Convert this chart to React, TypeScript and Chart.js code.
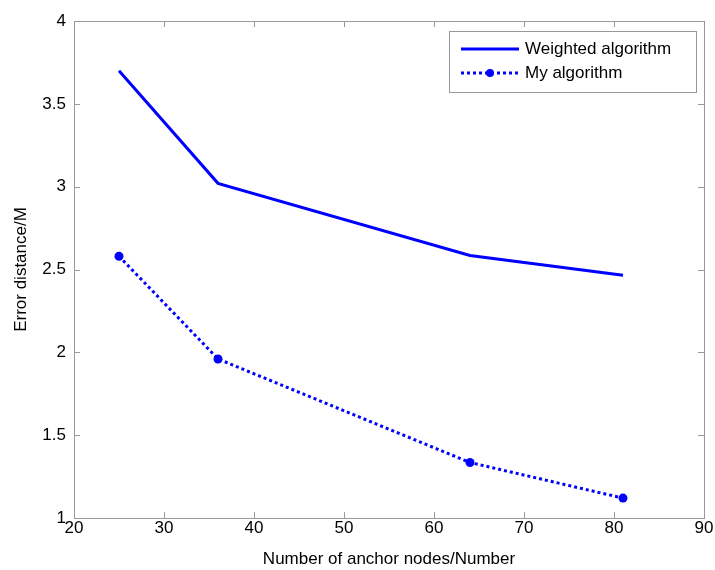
import React, { useEffect, useRef } from "react";
import { Chart, registerables } from "chart.js";

Chart.register(...registerables);

const xValues = [25, 36, 64, 81];
const weightedValues = [3.7, 3.02, 2.585, 2.465];
const myValues = [2.58, 1.96, 1.335, 1.12];
const seriesLabels = ["Weighted algorithm", "My algorithm"];
const xTicks = [20, 30, 40, 50, 60, 70, 80, 90];
const yTicks = [1, 1.5, 2, 2.5, 3, 3.5, 4];
const xTitle = "Number of anchor nodes/Number";
const yTitle = "Error distance/M";

const FONT = "'Liberation Sans', Arial, Helvetica, sans-serif";
const BLUE = "#0000ff";
const AXIS = "#9a9a9a";

const boxPlugin = {
  id: "matlabBox",
  afterDraw(chart: any) {
    const { ctx, chartArea: a, scales } = chart;
    ctx.save();
    ctx.strokeStyle = AXIS;
    ctx.lineWidth = 1;
    ctx.strokeRect(a.left + 0.5, a.top + 0.5, a.right - a.left, a.bottom - a.top);
    const tl = 6;
    ctx.beginPath();
    xTicks.forEach((v) => {
      const x = Math.round(scales.x.getPixelForValue(v)) + 0.5;
      ctx.moveTo(x, a.bottom);
      ctx.lineTo(x, a.bottom - tl);
      ctx.moveTo(x, a.top);
      ctx.lineTo(x, a.top + tl);
    });
    yTicks.forEach((v) => {
      const y = Math.round(scales.y.getPixelForValue(v)) + 0.5;
      ctx.moveTo(a.left, y);
      ctx.lineTo(a.left + tl, y);
      ctx.moveTo(a.right, y);
      ctx.lineTo(a.right - tl, y);
    });
    ctx.stroke();

    // legend
    const lx = 449, ly = 31, lw = 247, lh = 61;
    ctx.fillStyle = "#fff";
    ctx.fillRect(lx, ly, lw, lh);
    ctx.strokeStyle = AXIS;
    ctx.strokeRect(lx + 0.5, ly + 0.5, lw, lh);
    ctx.font = `17px ${FONT}`;
    ctx.textBaseline = "middle";
    ctx.fillStyle = "#000";
    const rows = [ly + 18, ly + 42];
    chart.data.datasets.forEach((ds: any, i: number) => {
      const y = rows[i];
      ctx.strokeStyle = BLUE;
      ctx.lineWidth = 3;
      ctx.setLineDash(i === 1 ? [3, 3] : []);
      ctx.beginPath();
      ctx.moveTo(lx + 12, y);
      ctx.lineTo(lx + 70, y);
      ctx.stroke();
      ctx.setLineDash([]);
      if (i === 1) {
        ctx.fillStyle = BLUE;
        ctx.beginPath();
        ctx.arc(lx + 41, y, 4, 0, Math.PI * 2);
        ctx.fill();
      }
      ctx.fillStyle = "#000";
      ctx.fillText(ds.label, lx + 76, y);
    });
    ctx.restore();
  },
};

export default function App() {
  const ref = useRef<HTMLCanvasElement>(null);
  useEffect(() => {
    document.body.style.margin = "0";
    const chart = new Chart(ref.current!, {
      type: "line",
      data: {
        datasets: [
          {
            label: seriesLabels[0],
            data: xValues.map((x, i) => ({ x, y: weightedValues[i] })),
            borderColor: BLUE,
            backgroundColor: BLUE,
            borderWidth: 3,
            pointRadius: 0,
            tension: 0,
          },
          {
            label: seriesLabels[1],
            data: xValues.map((x, i) => ({ x, y: myValues[i] })),
            borderColor: BLUE,
            backgroundColor: BLUE,
            borderWidth: 3,
            borderDash: [3, 3],
            pointRadius: 4.5,
            pointBorderWidth: 0,
            pointBackgroundColor: BLUE,
            tension: 0,
          },
        ],
      },
      options: {
        animation: false,
        responsive: false,
        layout: { padding: { top: 21, right: 11, left: 0, bottom: 0 } },
        plugins: { legend: { display: false }, tooltip: { enabled: false } },
        scales: {
          x: {
            type: "linear",
            min: 20,
            max: 90,
            afterBuildTicks: (s: any) => {
              s.ticks = xTicks.map((v) => ({ value: v }));
            },
            afterFit: (s: any) => {
              s.height = 52;
            },
            grid: { display: false, drawTicks: false },
            border: { display: false },
            ticks: {
              color: "#000",
              font: { family: FONT, size: 17 },
              padding: 0,
              maxRotation: 0,
              callback: (v: any) => String(v),
            },
            title: {
              display: true,
              text: xTitle,
              color: "#000",
              font: { family: FONT, size: 17 },
              padding: { top: 4, bottom: 0 },
            },
          },
          y: {
            type: "linear",
            min: 1,
            max: 4,
            afterBuildTicks: (s: any) => {
              s.ticks = yTicks.map((v) => ({ value: v }));
            },
            afterFit: (s: any) => {
              s.width = 74;
            },
            grid: { display: false, drawTicks: false },
            border: { display: false },
            ticks: {
              color: "#000",
              font: { family: FONT, size: 17 },
              padding: 8,
              callback: (v: any) => String(v),
            },
            title: {
              display: true,
              text: yTitle,
              color: "#000",
              font: { family: FONT, size: 17 },
              padding: { top: 11, bottom: 8 },
            },
          },
        },
      },
      plugins: [boxPlugin],
    });
    return () => chart.destroy();
  }, []);
  return <canvas ref={ref} width={715} height={570} style={{ display: "block" }} />;
}
